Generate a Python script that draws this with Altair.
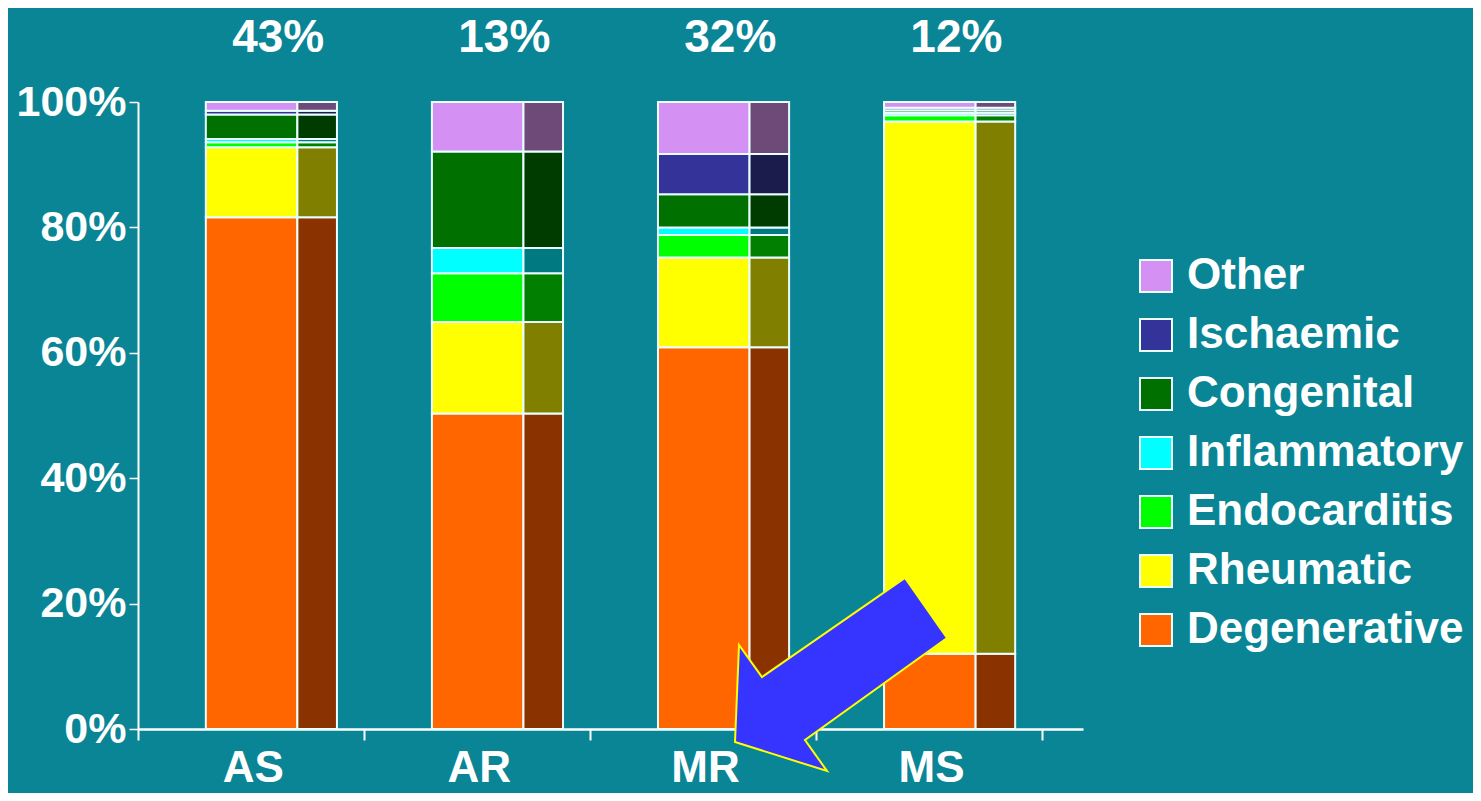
import altair as alt
import pandas as pd

# ---- data ----
categories = ["AS", "AR", "MR", "MS"]
share_labels = ["43%", "13%", "32%", "12%"]
causes = ["Degenerative", "Rheumatic", "Endocarditis", "Inflammatory",
          "Congenital", "Ischaemic", "Other"]  # bottom -> top
as_vals = [81.6, 11.2, 0.8, 0.5, 3.9, 0.6, 1.4]
ar_vals = [50.3, 14.6, 7.8, 4.0, 15.4, 0.0, 7.9]
mr_vals = [60.9, 14.3, 3.6, 1.2, 5.3, 6.4, 8.3]
ms_vals = [12.0, 84.9, 1.0, 0.4, 0.4, 0.4, 0.9]

front_colors = ["#ff6600", "#ffff00", "#00ff00", "#00ffff",
                "#007000", "#333399", "#d490f2"]
side_colors = ["#8a3200", "#807f00", "#007f00", "#007a80",
               "#003c00", "#1c1c4c", "#6e4a78"]

BG = "#0a8595"
FONT = "Liberation Sans"

rows = []
for i, (cat, vals) in enumerate(zip(categories, [as_vals, ar_vals, mr_vals, ms_vals])):
    base = 0.0
    for j, (cause, v) in enumerate(zip(causes, vals)):
        if v > 0:
            rows.append(dict(cat=cat, idx=i, cause=cause, value=v,
                             y0=base, y1=base + v, side=side_colors[j]))
        base += v
df = pd.DataFrame(rows)

labels_df = pd.DataFrame({"cat": categories, "share": share_labels,
                          "idx": list(range(len(categories)))})

xscale = alt.Scale(domain=[0, 4.18], nice=False, zero=False)
yscale = alt.Scale(domain=[0, 100], nice=False)

front = alt.Chart(df).transform_calculate(
    xa="datum.idx + 0.30", xb="datum.idx + 0.705"
).mark_bar(stroke="#eaffff", strokeWidth=2).encode(
    x=alt.X("xa:Q", scale=xscale, title=None,
            axis=alt.Axis(values=[0, 1, 2, 3, 4], labels=False, tickSize=11,
                          tickColor="white", tickWidth=2, domainColor="white",
                          domainWidth=2.5, grid=False)),
    x2="xb:Q",
    y=alt.Y("y0:Q", scale=yscale, title=None,
            axis=alt.Axis(values=[0, 20, 40, 60, 80, 100],
                          labelExpr="datum.value + '%'", labelFontSize=43,
                          labelFontWeight="bold", labelColor="white",
                          labelFont=FONT, tickSize=9, tickColor="white",
                          tickWidth=1.5, domainColor="white", domainWidth=2,
                          labelPadding=3, grid=False)),
    y2="y1:Q",
    color=alt.Color("cause:N",
                    scale=alt.Scale(domain=causes[::-1], range=front_colors[::-1]),
                    legend=alt.Legend(orient="none", legendX=996, legendY=152,
                                      title=None, symbolType="square",
                                      symbolSize=1024, symbolStrokeColor="white",
                                      symbolStrokeWidth=2, symbolOpacity=1,
                                      labelFontSize=44, labelFontWeight="bold",
                                      labelColor="white", labelFont=FONT,
                                      labelOffset=9, rowPadding=15,
                                      labelLimit=500)),
)

side = alt.Chart(df).transform_calculate(
    xa="datum.idx + 0.705", xb="datum.idx + 0.88"
).mark_bar(stroke="#eaffff", strokeWidth=2).encode(
    x=alt.X("xa:Q", scale=xscale),
    x2="xb:Q",
    y=alt.Y("y0:Q", scale=yscale),
    y2="y1:Q",
    color=alt.Color("side:N", scale=None),
)

cat_text = alt.Chart(labels_df).transform_calculate(
    xc="datum.idx + 0.51"
).mark_text(fontSize=44, fontWeight="bold", color="white", font=FONT,
            align="center", baseline="alphabetic").encode(
    x=alt.X("xc:Q", scale=xscale),
    y=alt.value(680),
    text="cat:N",
)

share_text = alt.Chart(labels_df).transform_calculate(
    xc="datum.idx + 0.62"
).mark_text(fontSize=46, fontWeight="bold", color="white", font=FONT,
            align="center", baseline="alphabetic").encode(
    x=alt.X("xc:Q", scale=xscale),
    y=alt.value(-50),
    text="share:N",
)

# annotation arrow (custom symbol path in pixel offsets, size=4 -> scale 1)
arrow_path = "M65,-122L107,-62L-35,40L-13,71L-105,42L-101,-55L-78,-23Z"
arrow = alt.Chart(pd.DataFrame({"a": [1]})).mark_point(
    shape=arrow_path, size=4, filled=True, fill="#3535ff", stroke="#ffff00",
    strokeWidth=2, opacity=1
).encode(x=alt.value(702), y=alt.value(598))

chart = alt.layer(front, side, cat_text, share_text, arrow).properties(
    width=945, height=627,
    padding={"left": 130, "top": 94, "right": 390, "bottom": 64},
    autosize=alt.AutoSizeParams(type="none"),
    background=BG,
).configure_view(stroke=None)

chart.save("out.html", embed_options={"renderer": "svg", "actions": False})
